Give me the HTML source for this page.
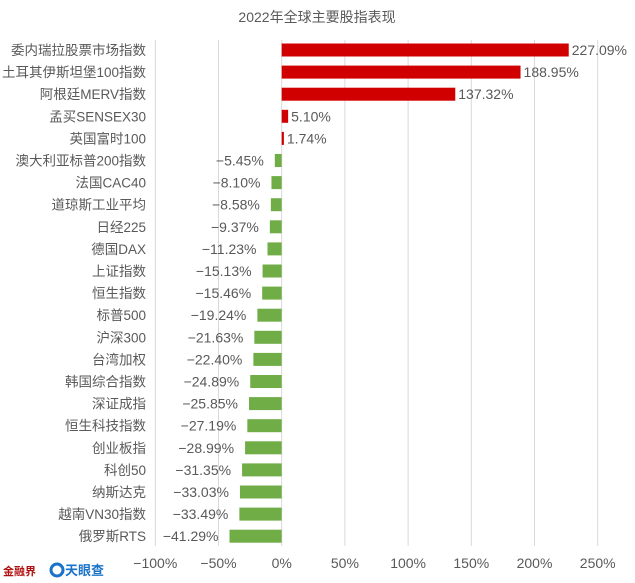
<!DOCTYPE html>
<html><head><meta charset="utf-8"><style>
body{margin:0;background:#fff;}
svg{display:block;font-family:"Liberation Sans","Noto Sans CJK SC",sans-serif;}
</style></head><body>
<svg id="c" width="635" height="583">
<text x="317" y="22" text-anchor="middle" font-size="14" fill="#595959">2022年全球主要股指表现</text>
<g id="grid"></g><g id="bars"></g><g id="labels"></g><g id="ticks"></g>
<g>
<text x="3" y="575" font-size="11" font-weight="bold" fill="#b01010">金融界</text>
<circle cx="57" cy="570" r="6" fill="none" stroke="#1a73c8" stroke-width="3"/>
<text x="65" y="575" font-size="13" font-weight="bold" fill="#1a73c8">天眼查</text>
</g>
</svg>
<script>
const categories=["委内瑞拉股票市场指数","土耳其伊斯坦堡100指数","阿根廷MERV指数","孟买SENSEX30","英国富时100","澳大利亚标普200指数","法国CAC40","道琼斯工业平均","日经225","德国DAX","上证指数","恒生指数","标普500","沪深300","台湾加权","韩国综合指数","深证成指","恒生科技指数","创业板指","科创50","纳斯达克","越南VN30指数","俄罗斯RTS"];
const values=[227.09,188.95,137.32,5.10,1.74,-5.45,-8.10,-8.58,-9.37,-11.23,-15.13,-15.46,-19.24,-21.63,-22.40,-24.89,-25.85,-27.19,-28.99,-31.35,-33.03,-33.49,-41.29];
const tickValues=[-100,-50,0,50,100,150,200,250];
const NS="http://www.w3.org/2000/svg";
const x=v=>281.7+v*1.264;
const y=i=>50+i*22.1;
function mk(t,a,p){const e=document.createElementNS(NS,t);for(const k in a)e.setAttribute(k,a[k]);document.getElementById(p).appendChild(e);return e;}
const fmt=v=>(v<0?"\u2212":"")+Math.abs(v).toFixed(2)+"%";
tickValues.forEach(t=>{
const l=mk("line",{x1:x(t),x2:x(t),y1:40,y2:546,stroke:"#d9d9d9","stroke-width":1},"grid");


const tx=mk("text",{x:x(t),y:568,"text-anchor":"middle","font-size":14,fill:"#595959"},"ticks");
tx.textContent=(t<0?"\u2212":"")+Math.abs(t)+"%";


});
values.forEach((v,i)=>{
const x0=Math.min(x(0),x(v)),w=Math.abs(x(v)-x(0));
const r=mk("rect",{x:x0,y:y(i)-6.5,width:w,height:13,fill:v>=0?"#d00000":"#70ad47"},"bars");


const c=mk("text",{x:146,y:y(i)+5,"text-anchor":"end","font-size":13.5,fill:"#595959"},"labels");
c.textContent=categories[i];


const lab=mk("text",{x:v>=0?x(v)+3:x(v)-11,y:y(i)+5,"text-anchor":v>=0?"start":"end","font-size":14,fill:"#595959"},"labels");
lab.textContent=fmt(v);


});
</script>
</body></html>
